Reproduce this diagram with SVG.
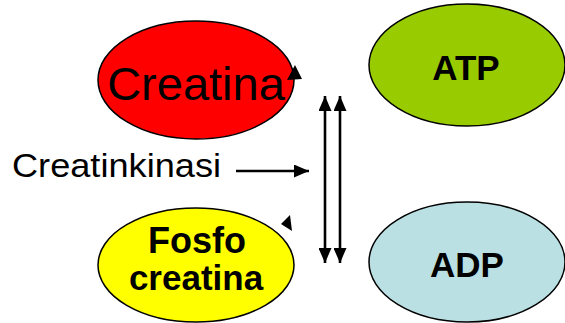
<svg xmlns="http://www.w3.org/2000/svg" width="565" height="323" viewBox="0 0 565 323">
<defs>
<style>
.node ellipse{stroke:#000;stroke-width:1.5}
.lbl{font-family:"Liberation Sans",Arial,sans-serif;fill:#000;text-anchor:middle}
.b{font-weight:bold}
.conn line{stroke:#000;stroke-width:2.6}
</style>
<marker id="ah" viewBox="0 0 15 13" refX="15" refY="6.5" markerWidth="15" markerHeight="13" markerUnits="userSpaceOnUse" orient="auto-start-reverse">
<path d="M0,0 L15,6.5 L0,13 Z" fill="#000"/>
</marker>
</defs>
<rect width="565" height="323" fill="#fff"/>
<g id="creatina" class="node">
<ellipse cx="196" cy="80" rx="98" ry="59" fill="#FF0000"/>
<text class="lbl" x="196" y="100" font-size="47">Creatina</text>
</g>
<g id="fosfocreatina" class="node">
<ellipse cx="196" cy="265" rx="98" ry="57" fill="#FFFF00"/>
<text class="lbl b" x="197" y="253" font-size="36">Fosfo</text>
<text class="lbl b" x="196" y="290" font-size="35">creatina</text>
</g>
<g id="atp" class="node">
<ellipse cx="467" cy="65" rx="98" ry="61" fill="#99CC00"/>
<text class="lbl b" x="466" y="80" font-size="35">ATP</text>
</g>
<g id="adp" class="node">
<ellipse cx="467" cy="262" rx="98" ry="60" fill="#BBE0E3"/>
<text class="lbl b" x="467" y="277" font-size="35">ADP</text>
</g>
<g id="creatinkinasi">
<text class="lbl" x="12" y="177" font-size="33" textLength="209" lengthAdjust="spacingAndGlyphs" style="text-anchor:start">Creatinkinasi</text>
</g>
<g id="connectors" class="conn">
<line x1="236" y1="171" x2="309" y2="171" marker-end="url(#ah)"/>
<line x1="325" y1="96" x2="325" y2="263" marker-start="url(#ah)" marker-end="url(#ah)"/>
<line x1="340" y1="96" x2="340" y2="263" marker-start="url(#ah)" marker-end="url(#ah)"/>
<polygon points="295,65 287,80 302,79" fill="#000"/>
<polygon points="281,224 290,215 292,231" fill="#000"/>
</g>
</svg>
